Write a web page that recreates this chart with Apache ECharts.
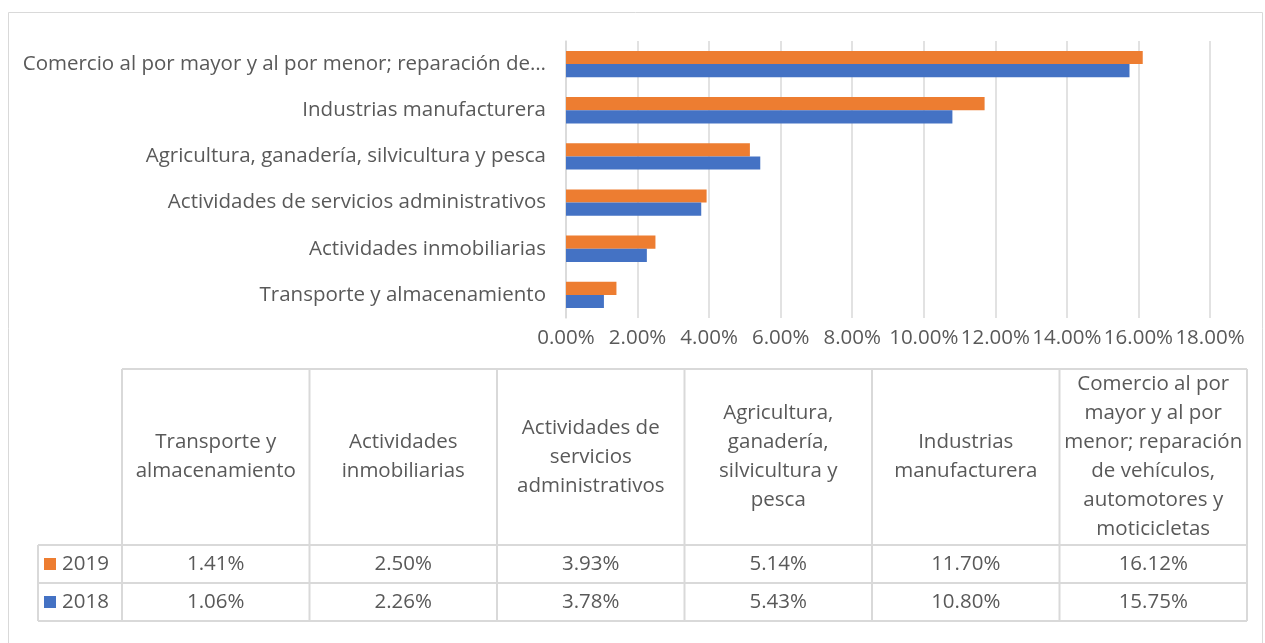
<!DOCTYPE html>
<html lang="es">
<head>
    <meta charset="UTF-8">
    <title>Participación por actividad</title>
    <script type="text/javascript" src="https://cdn.jsdelivr.net/npm/echarts@6/dist/echarts.min.js"></script>
    <style>
        body { margin: 0; background: #fff; }
    </style>
</head>
<body>
    <div id="main" style="width: 1265px;height:643px;"></div>
    <script type="text/javascript">
        // categorias (de abajo hacia arriba en el grafico, igual que la tabla)
        const categorias = [
            'Transporte y almacenamiento',
            'Actividades inmobiliarias',
            'Actividades de servicios administrativos',
            'Agricultura, ganadería, silvicultura y pesca',
            'Industrias manufacturera',
            'Comercio al por mayor y al por menor; reparación de vehículos, automotores y moticicletas'
        ];
        // etiquetas del eje (la ultima viene cortada en el original)
        const etiquetasEje = [
            'Transporte y almacenamiento',
            'Actividades inmobiliarias',
            'Actividades de servicios administrativos',
            'Agricultura, ganadería, silvicultura y pesca',
            'Industrias manufacturera',
            'Comercio al por mayor y al por menor; reparación de…'
        ];
        // encabezados de la tabla con sus saltos de linea
        const encabezados = [
            'Transporte y\nalmacenamiento',
            'Actividades\ninmobiliarias',
            'Actividades de\nservicios\nadministrativos',
            'Agricultura,\nganadería,\nsilvicultura y\npesca',
            'Industrias\nmanufacturera',
            'Comercio al por\nmayor y al por\nmenor; reparación\nde vehículos,\nautomotores y\nmoticicletas'
        ];
        const anios = ['2019', '2018'];
        const valores2019 = [1.41, 2.50, 3.93, 5.14, 11.70, 16.12];
        const valores2018 = [1.06, 2.26, 3.78, 5.43, 10.80, 15.75];
        const colores = ['#ED7D31', '#4472C4'];

        const fuente = 'Open Sans';
        const tam = 20.5;      // texto del grafico
        const tamTabla = 20.5; // texto de la tabla
        const gris = '#595959';
        const linea = '#D9D9D9';

        // tabla de datos debajo del grafico
        const tablaIzq = 122, colAncho = 187.5, tablaTop = 369, encAlto = 176, filaAlto = 38, leyIzq = 38;
        const filas = [valores2019, valores2018];
        const graficos = [];

        // borde exterior
        graficos.push({ type: 'rect', shape: { x: 8.5, y: 12.5, width: 1254, height: 660 },
            style: { fill: 'none', stroke: linea, lineWidth: 1 }, silent: true });

        const tablaDer = tablaIzq + colAncho * categorias.length;
        const tablaBottom = tablaTop + encAlto + filaAlto * filas.length;
        // lineas horizontales
        graficos.push({ type: 'line', shape: { x1: tablaIzq, y1: tablaTop, x2: tablaDer, y2: tablaTop }, style: { stroke: linea, lineWidth: 2 } });
        for (let r = 0; r <= filas.length; r++) {
            const y = tablaTop + encAlto + filaAlto * r;
            graficos.push({ type: 'line', shape: { x1: leyIzq, y1: y, x2: tablaDer, y2: y }, style: { stroke: linea, lineWidth: 2 } });
        }
        // lineas verticales
        graficos.push({ type: 'line', shape: { x1: leyIzq, y1: tablaTop + encAlto, x2: leyIzq, y2: tablaBottom }, style: { stroke: linea, lineWidth: 2 } });
        for (let c = 0; c <= categorias.length; c++) {
            const x = tablaIzq + colAncho * c;
            graficos.push({ type: 'line', shape: { x1: x, y1: tablaTop, x2: x, y2: tablaBottom }, style: { stroke: linea, lineWidth: 2 } });
        }
        // encabezados
        encabezados.forEach(function (t, c) {
            graficos.push({ type: 'text', x: tablaIzq + colAncho * (c + 0.5), y: tablaTop + encAlto / 2,
                style: { text: t, fill: gris, font: tamTabla + 'px ' + fuente, align: 'center', verticalAlign: 'middle', lineHeight: 29 } });
        });
        // filas de valores
        filas.forEach(function (vals, r) {
            const yc = tablaTop + encAlto + filaAlto * (r + 0.5);
            graficos.push({ type: 'rect', shape: { x: 44, y: yc - 6, width: 12, height: 12 }, style: { fill: colores[r] } });
            graficos.push({ type: 'text', x: 62, y: yc, style: { text: anios[r], fill: gris, font: tamTabla + 'px ' + fuente, verticalAlign: 'middle' } });
            vals.forEach(function (v, c) {
                graficos.push({ type: 'text', x: tablaIzq + colAncho * (c + 0.5), y: yc,
                    style: { text: v.toFixed(2) + '%', fill: gris, font: tamTabla + 'px ' + fuente, align: 'center', verticalAlign: 'middle' } });
            });
        });

        var myChart = echarts.init(document.getElementById('main'));

        var option = {
            animation: false,
            textStyle: { fontFamily: fuente },
            grid: { left: 566, right: 55, top: 41, bottom: 325 },
            xAxis: {
                type: 'value',
                min: 0,
                max: 18,
                interval: 2,
                axisLine: { show: false },
                axisTick: { show: false },
                splitLine: { lineStyle: { color: linea, width: 1.5 } },
                axisLabel: {
                    color: gris, fontSize: tam, fontFamily: fuente, margin: 10,
                    formatter: function (v) { return v.toFixed(2) + '%'; }
                }
            },
            yAxis: {
                type: 'category',
                data: etiquetasEje,
                axisLine: { lineStyle: { color: linea, width: 1.5 } },
                axisTick: { show: false },
                axisLabel: { color: gris, fontSize: tam, fontFamily: fuente, margin: 20 }
            },
            series: [
                { name: '2019', type: 'bar', data: valores2019, itemStyle: { color: colores[0] },
                  barGap: '0%', barCategoryGap: '43%' },
                { name: '2018', type: 'bar', data: valores2018, itemStyle: { color: colores[1] },
                  barGap: '0%', barCategoryGap: '43%' }
            ],
            graphic: graficos
        };

        myChart.setOption(option);
    </script>
</body>
</html>
